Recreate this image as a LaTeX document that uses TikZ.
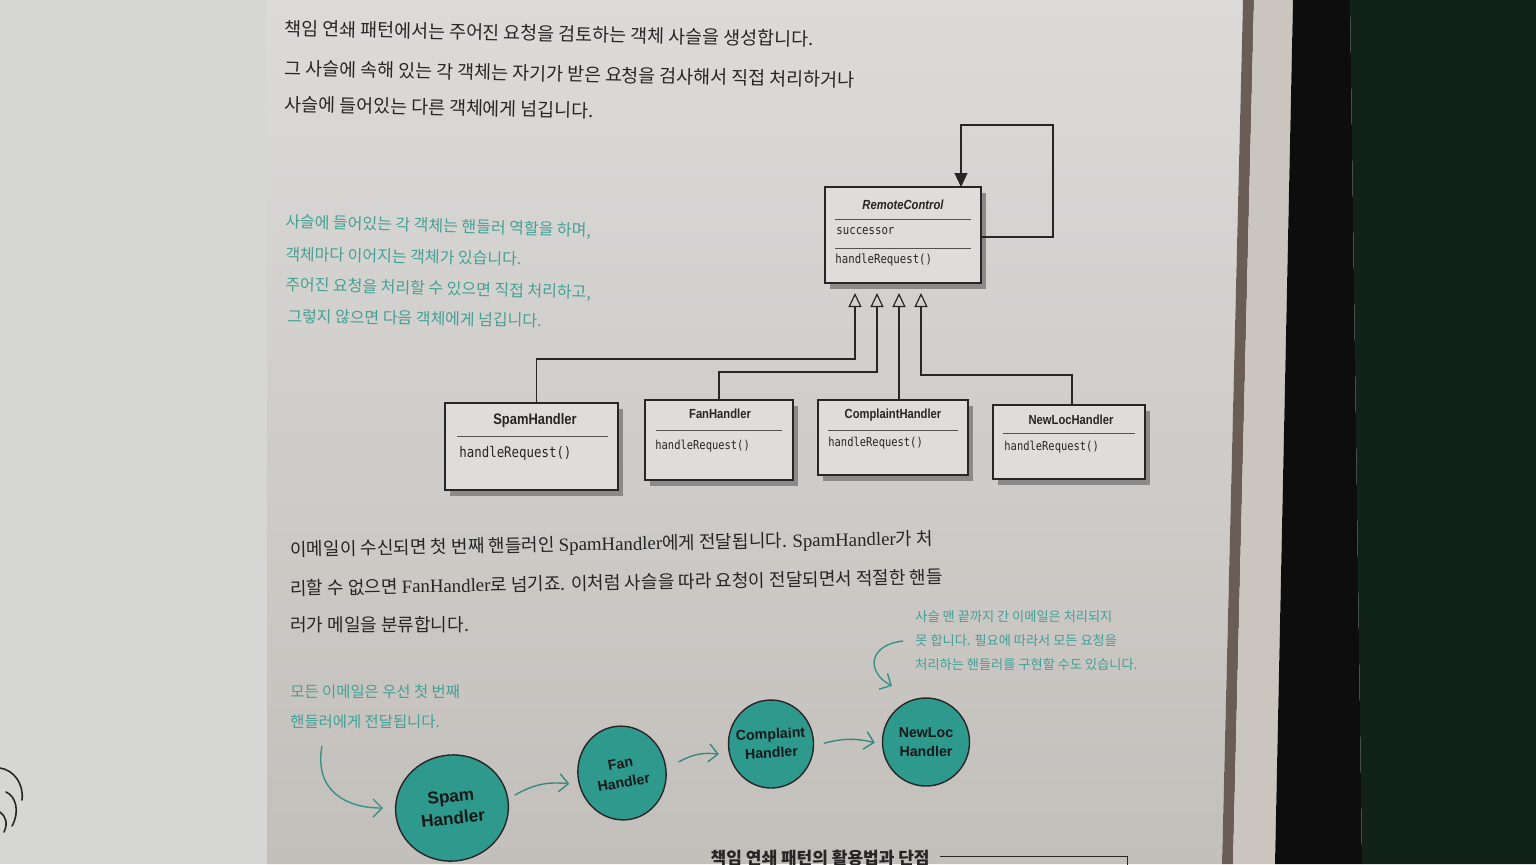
\documentclass[tikz,border=0pt]{standalone}
\usepackage{fontspec}
\usetikzlibrary{arrows.meta,shapes.geometric,shadows,calc}
\newfontfamily\kr{Noto Sans CJK KR}
\newfontfamily\lserif{Liberation Serif}
\newfontfamily\umlsans{Liberation Sans}[FakeStretch=0.85]
\newfontfamily\umlmono{DejaVu Sans Mono}[FakeStretch=0.85]
\newfontfamily\bubblefont{Liberation Sans}

\definecolor{paper}{HTML}{DCDBD9}
\definecolor{paperlow}{HTML}{C3BFBB}
\definecolor{leftpaper}{HTML}{D6D6D5}
\definecolor{ink}{HTML}{262626}
\definecolor{noteteal}{HTML}{44A095}
\definecolor{bubblefill}{HTML}{2E998D}
\definecolor{boxfill}{HTML}{DEDDDB}
\definecolor{boxshadow}{HTML}{8C8A88}
\definecolor{edgebrown}{HTML}{6A5D55}
\definecolor{edgelight}{HTML}{CBC5C0}
\definecolor{deskgreen}{HTML}{10221A}

% Latin words inside the Korean paragraph
\newcommand\lat[1]{{\lserif\fontsize{9.4}{10}\selectfont #1}}

\begin{document}
\begin{tikzpicture}[x=0.5pt,y=-0.5pt,
  body/.style={font=\kr\fontsize{9.2}{11}\selectfont, text=ink, anchor=base west, inner sep=0pt},
  para/.style={font=\kr\fontsize{9.0}{11}\selectfont, text=ink, anchor=base west, inner sep=0pt},
  note/.style={font=\kr\fontsize{#1}{#1}\selectfont, text=noteteal, anchor=west, inner sep=0pt},
  umlbox/.style={draw=ink, line width=0.6pt, fill=boxfill, rectangle, inner sep=0pt,
     drop shadow={shadow xshift=2.5pt, shadow yshift=-3pt, fill=boxshadow, opacity=1}},
  umltitle/.style={font=\umlsans\bfseries\fontsize{#1}{#1}\selectfont, text=ink, inner sep=0pt},
  umlmeth/.style={font=\umlmono\fontsize{#1}{#1}\selectfont, text=ink, anchor=west, inner sep=0pt},
  umlsep/.style={draw=ink!80, line width=0.4pt},
  inherit/.style={draw=ink, line width=0.6pt, -{Triangle[open, length=7pt, width=6.5pt, line width=0.6pt]}},
  bubble/.style={ellipse, draw=black!85, line width=0.7pt, fill=bubblefill, inner sep=0pt},
  bubbletext/.style={text=black!90, font=\bubblefont\bfseries\fontsize{#1}{#1}\selectfont, inner sep=0pt},
  flow/.style={draw=noteteal!85!black, line width=0.7pt,
     -{Straight Barb[length=4.5pt, width=9pt, line width=0.7pt]}},
  noteline/.style={draw=noteteal!90!black, line width=0.7pt,
     -{Straight Barb[length=4.5pt, width=9pt, line width=0.7pt]}},
]
\useasboundingbox (0,0) rectangle (1536,864);
\clip (0,0) rectangle (1536,864);

% pages, page edges and the desk
\fill[leftpaper] (0,0) rectangle (270,864);
\shade[top color=paper, bottom color=paperlow] (267,0) -- (1243,0) -- (1222,864) -- (267,864) -- cycle;
\fill[edgebrown] (1243,0) -- (1254,0) -- (1233,864) -- (1222,864) -- cycle;
\fill[edgelight] (1254,0) -- (1293,0) -- (1275,864) -- (1233,864) -- cycle;
\fill[black!95] (1293,0) -- (1350,0) -- (1362,864) -- (1275,864) -- cycle;
\fill[deskgreen] (1350,0) -- (1536,0) -- (1536,864) -- (1362,864) -- cycle;

% small drawing at the left edge
\draw[ink, line width=0.8pt, line cap=round] (0,768) .. controls (14,770) and (24,784) .. (22,800);
\draw[ink, line width=0.8pt, line cap=round] (6,792) .. controls (16,796) and (20,812) .. (12,826);
\draw[ink, line width=0.8pt, line cap=round] (0,812) .. controls (6,816) and (8,824) .. (4,832);

% introduction
\node[body, rotate=-1.2] (t1) at (284,35) {책임 연쇄 패턴에서는 주어진 요청을 검토하는 객체 사슬을 생성합니다.};
\node[body, rotate=-1.2] (t2) at (284,75) {그 사슬에 속해 있는 각 객체는 자기가 받은 요청을 검사해서 직접 처리하거나};
\node[body, rotate=-1.2] (t3) at (284,111) {사슬에 들어있는 다른 객체에게 넘깁니다.};

% side note
\node[note=8, rotate=-1.7] (n1) at (285,222) {사슬에 들어있는 각 객체는 핸들러 역할을 하며,};
\node[note=8, rotate=-1.2] (n2) at (285,254) {객체마다 이어지는 객체가 있습니다.};
\node[note=8, rotate=-1.5] (n3) at (285,285) {주어진 요청을 처리할 수 있으면 직접 처리하고,};
\node[note=8, rotate=-1.0] (n4) at (287,316) {그렇지 않으면 다음 객체에게 넘깁니다.};

% RemoteControl class
\node[umlbox, minimum width=78pt, minimum height=48pt] (rc) at (903,235) {};
\node[inner sep=0pt, text=ink, font=\umlsans\bfseries\itshape\fontsize{6.6}{6.6}\selectfont] (rct) at (903,205) {RemoteControl};
\draw[umlsep] (835,219) -- (971,219);
\node[umlmeth=6.3] (rcs) at (836,231) {successor};
\draw[umlsep] (835,248) -- (971,248);
\node[umlmeth=6.3] (rcm) at (835,260) {handleRequest()};

% successor link back to itself
\coordinate (loopin) at (961,187);
\draw[ink, line width=0.6pt, -{Triangle[length=7pt, width=6.5pt]}]
  ($(rc.east)+(0,2)$) -- (1053,237) -- (1053,125) -- (961,125) -- (loopin);

% concrete handlers
\node[umlbox, minimum width=86.5pt, minimum height=43.5pt] (spam) at (531.5,446.5) {};
\node[umltitle=7.6] (spamt) at (535,421) {SpamHandler};
\draw[umlsep] (457,436) -- (608,436);
\node[umlmeth=7.3] (spamm) at (459,453) {handleRequest()};

\node[umlbox, minimum width=74pt, minimum height=40pt] (fan) at (719,440) {};
\node[umltitle=6.6] (fant) at (720,414) {FanHandler};
\draw[umlsep] (656,430) -- (782,430);
\node[umlmeth=6.15] (fanm) at (655,446) {handleRequest()};

\node[umlbox, minimum width=75pt, minimum height=37.5pt] (comp) at (893,437.5) {};
\node[umltitle=6.6] (compt) at (893,415) {ComplaintHandler};
\draw[umlsep] (828,430) -- (958,430);
\node[umlmeth=6.15] (compm) at (828,443) {handleRequest()};

\node[umlbox, minimum width=76pt, minimum height=37pt] (newl) at (1069,442) {};
\node[umltitle=6.6] (newlt) at (1071,420) {NewLocHandler};
\draw[umlsep] (1003,433) -- (1135,433);
\node[umlmeth=6.15] (newlm) at (1004,447) {handleRequest()};

% generalization arrows
\coordinate (tipa) at (855,293);
\coordinate (tipb) at (877,293);
\coordinate (tipc) at (899,293);
\coordinate (tipd) at (921,293);
\coordinate (ea) at (855,359);
\coordinate (eb) at (877,372);
\coordinate (ed) at (921,375);
\draw[inherit] ($(spam.north)+(5,0)$) |- (ea) -- (tipa);
\draw[inherit] (fan.north) |- (eb) -- (tipb);
\draw[inherit] (comp.north -| tipc) -- (tipc);
\draw[inherit] ($(newl.north)+(3,0)$) |- (ed) -- (tipd);

% explanation
\node[para, rotate=1.0] (p1) at (290,556) {이메일이 수신되면 첫 번째 핸들러인 \lat{SpamHandler}에게 전달됩니다. \lat{SpamHandler}가 처};
\node[para, rotate=1.0] (p2) at (290,595) {리할 수 없으면 \lat{FanHandler}로 넘기죠. 이처럼 사슬을 따라 요청이 전달되면서 적절한 핸들};
\node[para] (p3) at (290,631) {러가 메일을 분류합니다.};

% notes around the chain
\node[note=6.6] (m1) at (915,617) {사슬 맨 끝까지 간 이메일은 처리되지};
\node[note=6.6] (m2) at (915,640) {못 합니다. 필요에 따라서 모든 요청을};
\node[note=6.6] (m3) at (915,664) {처리하는 핸들러를 구현할 수도 있습니다.};
\coordinate (na0) at (903,641);
\coordinate (na1) at (892,686);
\draw[noteline] (na0) .. controls (868,645) and (866,672) .. (na1);

\node[note=7.7] (b1) at (290,692) {모든 이메일은 우선 첫 번째};
\node[note=7.7] (b2) at (290,722) {핸들러에게 전달됩니다.};
\coordinate (nb0) at (322,746);
\coordinate (nb1) at (383,808);
\draw[noteline] (nb0) .. controls (314,790) and (345,808) .. (nb1);

% chain of handlers
\node[bubble, minimum width=56.5pt, minimum height=53pt, rotate=10] (sp) at (452,808) {};
\node[bubbletext=8.6, rotate=6] (spl1) at ($(sp.center)+(96:5pt)$) {Spam};
\node[bubbletext=8.6, rotate=6] (spl2) at ($(sp.center)+(276:5pt)$) {Handler};
\node[bubble, minimum width=44pt, minimum height=47pt, rotate=12] (fh) at (622,773) {};
\node[bubbletext=7.1, rotate=10] (fhl1) at ($(fh.center)+(100:4.75pt)$) {Fan};
\node[bubbletext=7.1, rotate=10] (fhl2) at ($(fh.center)+(280:4.75pt)$) {Handler};
\node[bubble, minimum width=42.5pt, minimum height=44pt, rotate=3] (ch) at (771,744) {};
\node[bubbletext=7.1, rotate=3] (chl1) at ($(ch.center)+(93:4.3pt)$) {Complaint};
\node[bubbletext=7.1, rotate=3] (chl2) at ($(ch.center)+(273:4.3pt)$) {Handler};
\node[bubble, minimum width=43.5pt, minimum height=44pt] (nh) at (926,742) {};
\node[bubbletext=7.1] (nhl1) at ($(nh.center)+(90:4.5pt)$) {NewLoc};
\node[bubbletext=7.1] (nhl2) at ($(nh.center)+(270:4.5pt)$) {Handler};

\draw[flow] ($(sp.center)!0.37!(fh.center)$) to[bend left=18] ($(sp.center)!0.69!(fh.center)$);
\draw[flow] ($(fh.center)!0.38!(ch.center)$) to[bend left=18] ($(fh.center)!0.65!(ch.center)$);
\draw[flow] ($(ch.center)!0.34!(nh.center)$) to[bend left=14] ($(ch.center)!0.67!(nh.center)$);

% next section heading
\node[anchor=east, inner sep=0pt, text=ink, font=\kr\bfseries\fontsize{8.5}{10}\selectfont] (hd) at (930,858) {책임 연쇄 패턴의 활용법과 단점};
\draw[ink, line width=0.5pt] ($(hd.east)+(10,-2)$) -- (1127,856) -- (1127,866);
\end{tikzpicture}
\end{document}
